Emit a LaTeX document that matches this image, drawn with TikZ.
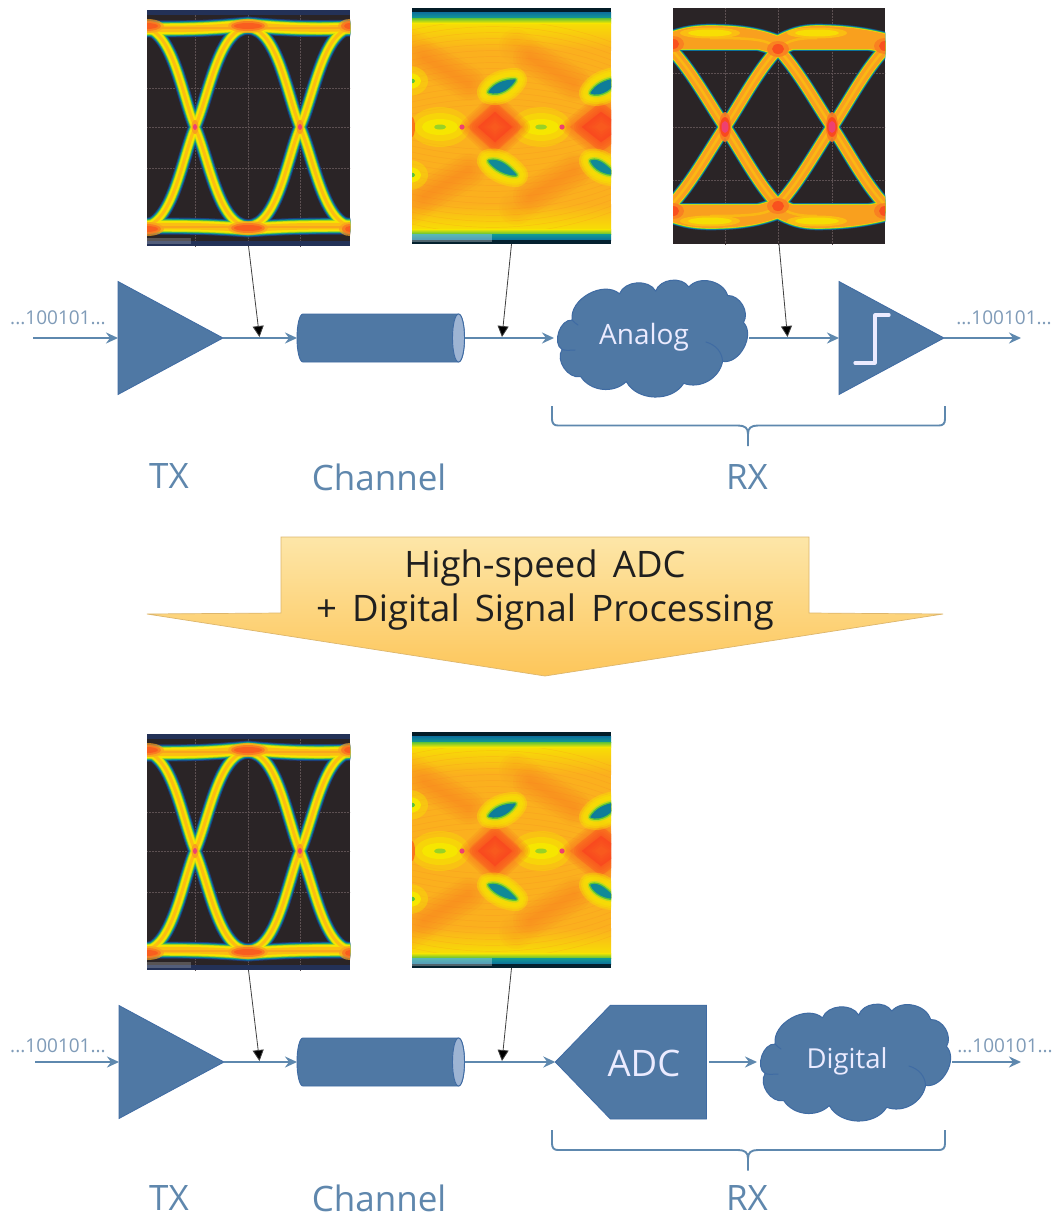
\documentclass[tikz,border=0pt]{standalone}
\usepackage{fontspec}
\setmainfont{Open Sans}
\newfontfamily\widefont[WordSpace=1.6]{Open Sans}
\usetikzlibrary{arrows.meta,shapes.geometric,calc}
\definecolor{blockfill}{HTML}{4F78A4}
\definecolor{blockedge}{HTML}{3F6BA3}
\definecolor{capfill}{HTML}{9DB4D3}
\definecolor{wire}{HTML}{5E88AE}
\definecolor{labelblue}{HTML}{5F87AD}
\definecolor{bitsblue}{HTML}{7F9BB8}
\definecolor{scopebg}{HTML}{2A2426}
\definecolor{gridline}{HTML}{5C5052}
\definecolor{cNavy}{HTML}{1E3A78}
\definecolor{cTeal}{HTML}{0C6F9C}
\definecolor{cSea}{HTML}{129C94}
\definecolor{cGreen}{HTML}{5CC238}
\definecolor{cLime}{HTML}{C0DC1C}
\definecolor{cYellow}{HTML}{F6E600}
\definecolor{cGold}{HTML}{FBBE12}
\definecolor{cAmber}{HTML}{FBB01E}
\definecolor{cOrange}{HTML}{F9A01E}
\definecolor{cDeep}{HTML}{F97A22}
\definecolor{cRed}{HTML}{F9441E}
\definecolor{cPink}{HTML}{EE4070}
\definecolor{arrowtop}{HTML}{FDE6A8}
\definecolor{arrowbot}{HTML}{FDC65A}
\definecolor{arrowedge}{HTML}{DDB66C}
\tikzset{
  wirearrow/.style={draw=wire,line width=2.4pt,-{Stealth[length=12pt,width=11pt,inset=4pt]}},
  probe/.style={draw=black!75,line width=.8pt,-{Triangle[length=11pt,width=11pt,fill=black]}},
  bits/.style={text=bitsblue,font=\fontsize{19}{21}\selectfont,inner sep=0pt},
  biglabel/.style={text=labelblue,font=\fontsize{35}{38}\selectfont,inner sep=0pt},
  blocklabel/.style={text=white!92!blue,inner sep=0pt},
  amp/.style={isosceles triangle,isosceles triangle stretches,shape border rotate=0,
    minimum width=113pt,minimum height=105pt,inner sep=0pt,outer sep=0pt,
    fill=blockfill,draw=blockedge,line width=.8pt,anchor=apex},
  anchorbox/.style={inner sep=0pt,outer sep=0pt},
  brace/.style={draw=wire,line width=1.9pt,line join=round},
  puffy/.style={fill=blockfill,draw=blockedge,line width=1pt,line join=round},
}
% ---------- eye drawing helpers
\newcommand{\archA}[2]{({#1-53},117) .. controls ({#1-39},{117+#2*32}) and ({#1-29},{117+#2*99}) .. ({#1},{117+#2*99}) .. controls ({#1+29},{117+#2*99}) and ({#1+39},{117+#2*32}) .. ({#1+52},117)}
\newcommand{\eyeTX}[2]{%
\begin{scope}[shift={(#1,#2)}]
  \clip (0,0) rectangle (203,236);
  \fill[scopebg] (0,0) rectangle (203,236);
  \draw[gridline,line width=.5pt,densely dotted]
    (0,78)--(203,78) (0,117)--(203,117) (0,158)--(203,158)
    (48,0)--(48,236) (101,0)--(101,236) (153,0)--(153,236);
  \fill[cNavy!60!scopebg] (0,0) rectangle (203,5);
  \fill[cNavy!60!scopebg] (0,231) rectangle (203,236);
  \foreach \e/\c in {7/cNavy,5.2/cTeal,3.8/cSea,2.6/cGreen,1.4/cLime,0/cYellow,-3.5/cGold}{
    \draw[\c,line width={6.5+\e}] \archA{-4}{-1} \archA{101}{-1} \archA{206}{-1}
       \archA{-4}{1} \archA{101}{1} \archA{206}{1};
    \draw[\c,line width={10+\e}]
      (-5,19) .. controls (40,19) and (60,19) .. (101,15) .. controls (140,19) and (170,19) .. (208,18)
      (-5,216) .. controls (40,216) and (60,216) .. (101,219) .. controls (140,216) and (170,216) .. (208,216);
  }
  \draw[cOrange,line width=2pt,opacity=.8] (-5,18)--(208,18) (-5,217)--(208,217);
  \foreach \xx/\yy/\rx in {0/16/14,101/16/17,203/16/9,0/219/14,101/218/17,203/219/8}{
    \fill[cOrange,opacity=.7] (\xx,\yy) ellipse[x radius=\rx+3,y radius=7];
    \fill[cDeep,opacity=.9] (\xx,\yy) ellipse[x radius=\rx,y radius=5];
    \fill[cRed,opacity=.55] (\xx,\yy) ellipse[x radius=\rx-3,y radius=3];
  }
  \foreach \xx in {48,153}{
    \fill[cOrange] (\xx,117) ellipse[x radius=3.5,y radius=7];
    \fill[cPink] (\xx,117) ellipse[x radius=2,y radius=3];
  }
  \fill[white,opacity=.22] (0,228) rectangle (44,234);
\end{scope}}
\newcommand{\blobB}[2]{%
  \foreach \w in {24,20,16}{\draw[cYellow,fill=cYellow,line width=\w pt,line join=round,opacity=.4] #1;}
  \draw[cLime,fill=cLime,line width=7pt,line join=round] #1;
  \draw[cGreen,fill=cGreen,line width=4pt,line join=round] #1;
  \draw[#2,fill=#2,line width=1.2pt,line join=round] #1;}
\newcommand{\softB}[3]{%
  \foreach \w in {34,28,22,16,10,5}{\draw[#1,line width=\w pt,line join=round,line cap=round,opacity=#2] #3;}}
\newcommand{\softF}[3]{%
  \foreach \w in {16,12,8,4,1}{\draw[#1,fill=#1,line width=\w pt,line join=round,opacity=#2] #3;}}
\newcommand{\eyeCH}[2]{%
\begin{scope}[shift={(#1,#2)}]
  \clip (0,0) rectangle (199,236);
  \fill[cAmber] (0,0) rectangle (199,236);
  \shade[top color=cYellow,bottom color=cAmber] (0,10) rectangle (199,42);
  \shade[top color=cAmber,bottom color=cYellow] (0,196) rectangle (199,226);
  % orange fringe fields
  \foreach \dx in {-106,0,106}{
    \begin{scope}[xshift=\dx pt]
    \softB{cOrange}{.1}{(-2,38) -- (58,74)}
    \softB{cOrange}{.1}{(-2,200) -- (58,164)}
    \softB{cDeep}{.07}{(12,50) -- (56,76)}
    \softB{cDeep}{.07}{(12,188) -- (56,162)}
    \end{scope}
  }
  % fine fringes
  \foreach \yy in {22,28,...,110}{
    \draw[cDeep,line width=.45pt,opacity=.22] (0,\yy) .. controls (60,{\yy-14}) and (130,{\yy-14}) .. (199,{\yy+12});
    \draw[cDeep,line width=.45pt,opacity=.22] (0,{238-\yy}) .. controls (60,{252-\yy}) and (130,{252-\yy}) .. (199,{226-\yy});
  }
  % yellow lenses
  \foreach \xx in {28,129}{
    \fill[cYellow,opacity=.35] (\xx,119) ellipse[x radius=30,y radius=20];
    \fill[cYellow,opacity=.5] (\xx,119) ellipse[x radius=25,y radius=14];
    \fill[cYellow] (\xx,119) ellipse[x radius=18,y radius=8];
    \fill[cLime!60!cGreen] (\xx,119) ellipse[x radius=6,y radius=2.5];
  }
  % diamonds
  \softF{cDeep}{.22}{(56,119) -- (83,94) -- (110,119) -- (83,144) -- cycle}
  \softF{cRed}{.2}{(66,119) -- (83,104) -- (100,119) -- (83,134) -- cycle}
  \softF{cDeep}{.22}{(158,119) -- (189,94) -- (220,119) -- (189,144) -- cycle}
  \softF{cRed}{.2}{(170,119) -- (189,104) -- (210,119) -- (189,134) -- cycle}
  \foreach \xx in {50,150}{\fill[cPink] (\xx,119) circle[radius=2.6];}
  \fill[cRed,opacity=.6] (0,119) ellipse[x radius=3,y radius=10];
  % openings
  \blobB{(77,84) .. controls (82,76) and (92,72) .. (103,72) .. controls (99,79) and (88,88) .. (77,84) -- cycle}{cTeal!70!cSea}
  \blobB{(77,153) .. controls (88,150) and (98,160) .. (104,167) .. controls (94,167) and (82,161) .. (77,153) -- cycle}{cTeal!40!cSea}
  \blobB{(179,85) .. controls (184,77) and (192,73) .. (203,71) .. controls (203,80) and (188,89) .. (179,85) -- cycle}{cTeal!70!cSea}
  \blobB{(179,153) .. controls (188,150) and (196,160) .. (203,166) .. controls (194,167) and (182,161) .. (179,153) -- cycle}{cTeal!40!cSea}
  \foreach \yy in {73,167}{
    \fill[cYellow,opacity=.4] (-3,\yy) ellipse[x radius=19,y radius=15];
    \fill[cYellow] (-3,\yy) ellipse[x radius=12,y radius=8];
    \fill[cGreen] (-1,\yy) ellipse[x radius=4,y radius=2.5];
  }
  % rims
  \fill[black!75!cTeal] (0,0) rectangle (199,4);
  \shade[top color=cTeal,bottom color=cSea] (0,4) rectangle (199,10);
  \shade[top color=cGreen,bottom color=cYellow] (0,10) rectangle (199,15);
  \shade[top color=cYellow,bottom color=cGreen] (0,221) rectangle (199,226);
  \shade[top color=cSea,bottom color=cTeal] (0,226) rectangle (199,232);
  \fill[black!70!cTeal] (0,232) rectangle (199,236);
  \fill[white,opacity=.3] (0,226) rectangle (80,234);
\end{scope}}
\newcommand{\rxX}{%
  (52,119) .. controls (68,95) and (85,62) .. (105,41) .. controls (115,32) and (125,30) .. (144,30)
  (159,119) .. controls (143,95) and (125,62) .. (105,41) .. controls (95,32) and (85,30) .. (37,30)
  (52,119) .. controls (36,95) and (18,62) .. (-2,41) -- (-10,34)
  (159,119) .. controls (175,95) and (192,62) .. (212,41) -- (220,34)}
\newcommand{\rxHump}{%
  (-10,38) .. controls (5,30) and (20,27) .. (37,27) .. controls (65,27) and (85,30) .. (105,38) .. controls (120,30) and (130,27) .. (144,27) .. controls (170,27) and (195,30) .. (222,38)}
\newcommand{\rxRail}{(-5,38)--(217,38)}
\newcommand{\eyeRX}[2]{%
\begin{scope}[shift={(#1,#2)}]
  \clip (0,0) rectangle (212,236);
  \fill[scopebg] (0,0) rectangle (212,236);
  \draw[gridline,line width=.5pt,densely dotted]
    (0,119)--(212,119) (0,65)--(212,65) (0,172)--(212,172)
    (52,0)--(52,236) (105,0)--(105,236) (159,0)--(159,236);
  \foreach \e/\c in {4.6/cNavy!70!cTeal,3.6/cTeal,2.8/cSea,2/cGreen,1.2/cLime,.6/cYellow,0/cOrange}{
    \draw[\c,line width={9.5+\e}] \rxX;
    \draw[\c,line width={18+\e}] \rxHump;
    \draw[\c,line width={6+\e}] \rxRail;
    \begin{scope}[shift={(0,238)},yscale=-1]
      \draw[\c,line width={9.5+\e}] \rxX;
      \draw[\c,line width={18+\e}] \rxHump;
      \draw[\c,line width={6+\e}] \rxRail;
    \end{scope}
  }
  % lighter cores of the traces
  \draw[cGold,line width=2.5pt,opacity=.8] \rxX;
  \begin{scope}[shift={(0,238)},yscale=-1]\draw[cGold,line width=2.5pt,opacity=.8] \rxX;\end{scope}
  \foreach \xx/\yy in {0/36,105/41,212/38,0/203,105/198,212/203}{
    \fill[cDeep,opacity=.8] (\xx,\yy) ellipse[x radius=11,y radius=8];
    \fill[cRed,opacity=.8] (\xx,\yy) ellipse[x radius=6,y radius=5];
  }
  \foreach \xx in {37,144}{\foreach \yy in {25,213}{
    \fill[cGold] (\xx,\yy) ellipse[x radius=30,y radius=5.5];
    \fill[cYellow!80!cGold] (\xx,\yy) ellipse[x radius=22,y radius=3.5];
  }}
  \foreach \xx in {52,159}{
    \fill[cDeep,opacity=.9] (\xx,119) ellipse[x radius=6,y radius=15];
    \fill[cRed,opacity=.9] (\xx,119) ellipse[x radius=5,y radius=10];
    \fill[cPink] (\xx,119) ellipse[x radius=3.5,y radius=6];
  }
\end{scope}}
\newcommand{\cloudShape}[2]{%
\begin{scope}[shift={(#1,#2)}]
  \draw[puffy] (572.2,320.1) to[bend left=70] (619.5,293.8)
    to[bend left=65] (655.7,291.1) to[bend left=65] (688.8,287)
    to[bend left=62] (727.6,295.5) to[bend left=62] (743.5,322.5)
    to[bend left=72] (722.6,361.4) to[bend left=50] (683.7,383.3)
    to[bend left=60] (626.3,381.6) to[bend left=50] (580.7,376.6)
    to[bend left=68] (562.1,349.5) to[bend left=78] cycle;
  \draw[blockedge,line width=1pt,line cap=round]
    (706,342) .. controls (716,345) and (722,352) .. (722.6,361.4)
    (572.2,320.1) .. controls (574,322) and (576,324) .. (578,325)
    (562.1,349.5) .. controls (566,351) and (571,350) .. (575,350);
\end{scope}}
\newcommand{\tubeShape}[1]{%
\begin{scope}[yshift={-(#1)*1pt}]
  \draw[fill=blockfill,draw=blockedge,line width=.9pt]
    (303,314) -- (458.5,314) .. controls (462,314) and (464.5,325) .. (464.5,338)
    .. controls (464.5,351) and (462,362) .. (458.5,362) -- (303,362)
    .. controls (299.5,362) and (297,351) .. (297,338)
    .. controls (297,325) and (299.5,314) .. (303,314) -- cycle;
  \draw[fill=capfill,draw=blockedge,line width=.9pt] (458.5,338) ellipse[x radius=6,y radius=24];
\end{scope}}
\begin{document}
\begin{tikzpicture}[x=1pt,y=-1pt,line cap=butt]
\useasboundingbox (0,0) rectangle (1059,1218);
\fill[white] (0,0) rectangle (1059,1218);

% ---------- images
\eyeTX{147}{10}
\eyeCH{412}{8}
\eyeRX{673}{8}
\eyeTX{147}{734}
\eyeCH{412}{732}
\node[anchorbox,minimum width=203pt,minimum height=236pt] (eyeTa) at (248.5,128) {};
\node[anchorbox,minimum width=199pt,minimum height=236pt] (eyeCa) at (511.5,126) {};
\node[anchorbox,minimum width=212pt,minimum height=236pt] (eyeRa) at (779,126) {};
\node[anchorbox,minimum width=203pt,minimum height=236pt] (eyeTb) at (248.5,852) {};
\node[anchorbox,minimum width=199pt,minimum height=236pt] (eyeCb) at (511.5,850) {};

% ---------- top chain
\cloudShape{0}{0}
\tubeShape{0}
\node[amp] (txa) at (223,338) {};
\node[amp] (cmp) at (944,338) {};
\node[anchorbox,minimum width=167.5pt,minimum height=48pt] (cha) at (380.75,338) {};
\node[anchorbox,minimum width=195pt,minimum height=118pt] (ana) at (651.5,338) {};
\node[blocklabel,font=\fontsize{28}{30}\selectfont] (analbl) at (644,337) {Analog};
\draw[white!92!blue,line width=3.2pt,line join=round,line cap=round] (855,363)--(875,363)--(875,315)--(889,315);
\coordinate (ina) at (33,338);
\coordinate (outa) at (1021,338);
\coordinate (tapTa) at (259.5,337);
\coordinate (tapCa) at (502,337);
\coordinate (tapRa) at (787.5,337);
\draw[wirearrow] (ina) -- (txa.lower side);
\draw[wirearrow] (txa.apex) -- (cha.west);
\draw[wirearrow] (cha.east) -- (ana.west);
\draw[wirearrow] (ana.east) -- (cmp.lower side);
\draw[wirearrow] (cmp.apex) -- (outa);
\draw[probe] (eyeTa.south) -- (tapTa);
\draw[probe] (eyeCa.south) -- (tapCa);
\draw[probe] (eyeRa.south) -- (tapRa);
\node[bits] (bitsia) at (58,318) {...100101...};
\node[bits] (bitsoa) at (1004,318) {...100101...};
\coordinate (bral) at (552,406);
\coordinate (brar) at (945,406);
\coordinate (bram) at (748,446);
\draw[brace] (bral) -- (552,419) .. controls (552,423.5) and (554,425.5) .. (558,425.5) -- (738,425.5)
  .. controls (745,425.5) and (748,428) .. (748,434) -- (bram) (748,434)
  .. controls (748,428) and (751,425.5) .. (758,425.5) -- (939,425.5)
  .. controls (943,425.5) and (945,423.5) .. (945,419) -- (brar);
\node[biglabel] (txlabela) at (169,476) {TX};
\node[biglabel] (chlabela) at (379,477) {Channel};
\node[biglabel] (rxlabela) at (747,477) {RX};

% ---------- big arrow
\shade[top color=arrowtop,bottom color=arrowbot,draw=arrowedge,line width=.7pt]
  (281,537) -- (809,537) -- (809,613) -- (943,614) -- (545,676) -- (147,614) -- (281,613) -- cycle;
\node[inner sep=0pt,align=center,text=black!88,font=\widefont\fontsize{36.5}{44}\selectfont] (bigtxt) at (545,590) {High-speed ADC\\+ Digital Signal Processing};

% ---------- bottom chain
\cloudShape{203}{724}
\tubeShape{724}
\node[amp] (txb) at (224,1062) {};
\node[anchorbox,minimum width=167.5pt,minimum height=48pt] (chb) at (380.75,1062) {};
\draw[fill=blockfill,draw=blockedge,line width=.8pt,line join=miter]
  (555.3,1062) -- (610.4,1005.2) -- (706.4,1005.2) -- (706.4,1119) -- (610.4,1119) -- cycle;
\node[anchorbox,minimum width=151pt,minimum height=114pt] (adc) at (630.8,1062) {};
\node[blocklabel,font=\fontsize{36.5}{38}\selectfont] (adclbl) at (644,1063) {ADC};
\node[anchorbox,minimum width=195pt,minimum height=118pt] (dig) at (854.5,1062) {};
\node[blocklabel,font=\fontsize{27.5}{30}\selectfont] (diglbl) at (847,1061) {Digital};
\coordinate (inb) at (35,1062);
\coordinate (outb) at (1021,1062);
\coordinate (tapTb) at (259.5,1061);
\coordinate (tapCb) at (502,1061);
\draw[wirearrow] (inb) -- (txb.lower side);
\draw[wirearrow] (txb.apex) -- (chb.west);
\draw[wirearrow] (chb.east) -- (adc.west);
\draw[wirearrow,shorten <=3pt] (adc.east) -- (dig.west);
\draw[wirearrow] (dig.east) -- (outb);
\draw[probe] (eyeTb.south) -- (tapTb);
\draw[probe] (eyeCb.south) -- (tapCb);
\node[bits] (bitsib) at (58,1046) {...100101...};
\node[bits] (bitsob) at (1005,1046) {...100101...};
\coordinate (brbl) at (552,1130);
\coordinate (brbr) at (945,1130);
\coordinate (brbm) at (748,1170.5);
\draw[brace] (brbl) -- (552,1143.5) .. controls (552,1148) and (554,1150) .. (558,1150) -- (738,1150)
  .. controls (745,1150) and (748,1152.5) .. (748,1158.5) -- (brbm) (748,1158.5)
  .. controls (748,1152.5) and (751,1150) .. (758,1150) -- (939,1150)
  .. controls (943,1150) and (945,1148) .. (945,1143.5) -- (brbr);
\node[biglabel] (txlabelb) at (169,1198) {TX};
\node[biglabel] (chlabelb) at (379,1198) {Channel};
\node[biglabel] (rxlabelb) at (747,1198) {RX};
\end{tikzpicture}
\end{document}
